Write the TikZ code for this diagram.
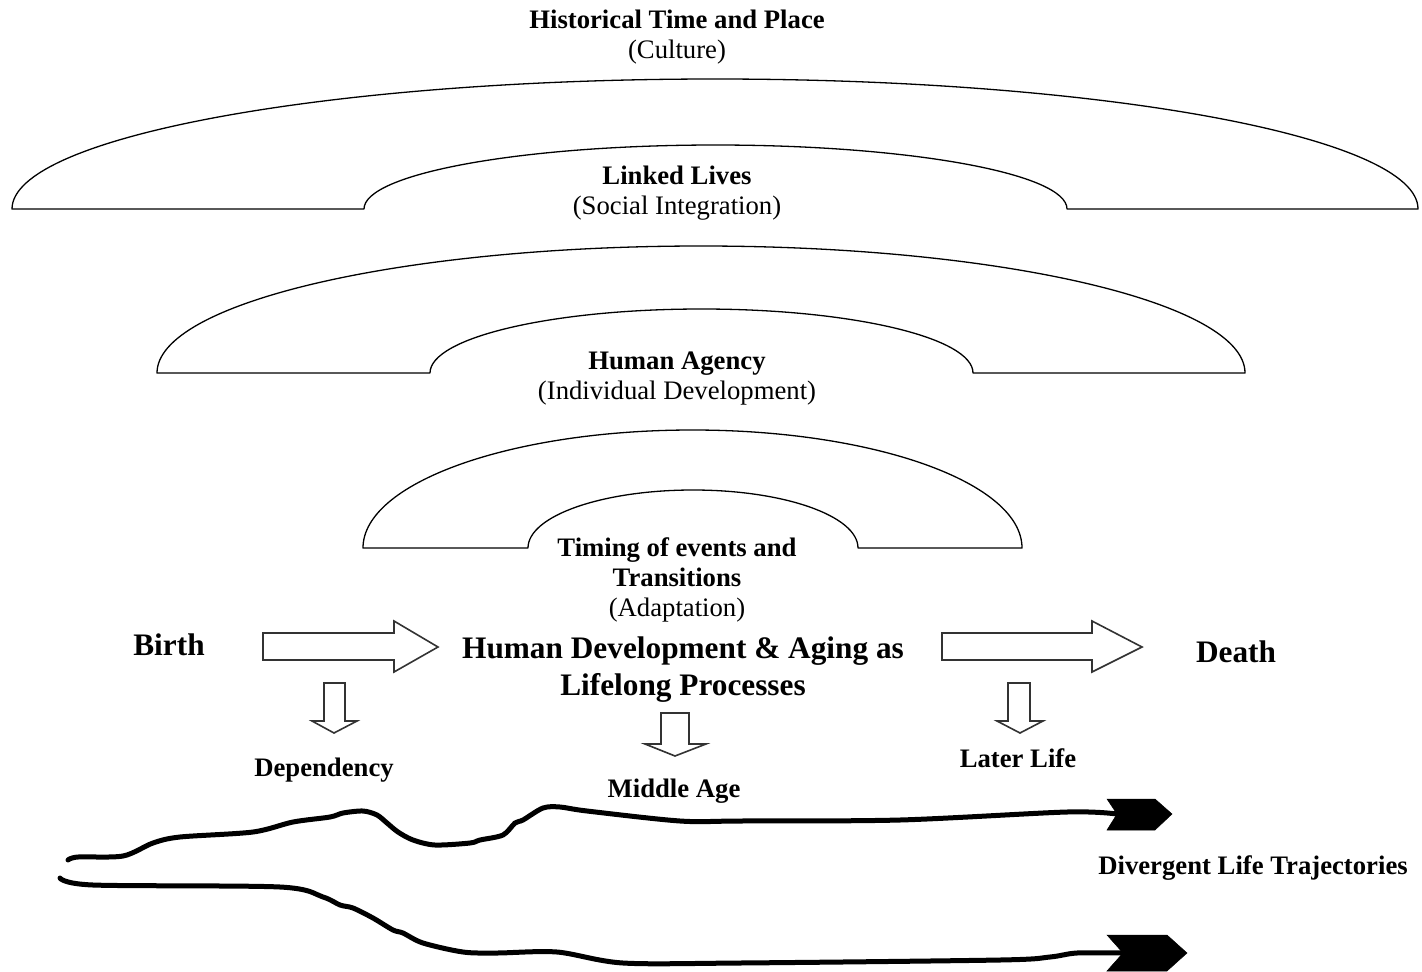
\documentclass[tikz,border=0pt]{standalone}
\usepackage{fontspec}
\setmainfont{Liberation Serif}
\begin{document}
\begin{tikzpicture}[x=1pt,y=-1pt,
  arch/.style={draw=black,line width=1.3pt,fill=white,line join=round},
  blockarrow/.style={draw=black!80,line width=1.6pt,fill=white,line join=miter},
  trajline/.style={line width=5pt,line cap=round,line join=round},
  trajhead/.style={fill=black,draw=black,line width=0.5pt},
  lbl/.style={font=\fontsize{26.7}{30}\selectfont,align=center,inner sep=0pt},
  boldlbl/.style={font=\fontsize{26.7}{30}\selectfont\bfseries,align=center,inner sep=0pt},
  biglbl/.style={font=\fontsize{31.3}{37}\selectfont\bfseries,align=center,inner sep=0pt}]
\useasboundingbox (0,0) rectangle (1422,972);

% nested arches: outer half-ellipse, flat feet, inner half-ellipse
\draw[arch] (12,209) arc[start angle=180,end angle=0,x radius=703pt,y radius=130pt]
  -- (1067,209) arc[start angle=0,end angle=180,x radius=351.5pt,y radius=64pt] -- cycle;
\draw[arch] (157,373) arc[start angle=180,end angle=0,x radius=544pt,y radius=127pt]
  -- (973,373) arc[start angle=0,end angle=180,x radius=271.5pt,y radius=64pt] -- cycle;
\draw[arch] (363,548) arc[start angle=180,end angle=0,x radius=329.5pt,y radius=118pt]
  -- (858,548) arc[start angle=0,end angle=180,x radius=165pt,y radius=58pt] -- cycle;

% labels of the arches
\node[lbl] (hist) at (677,37) {\textbf{Historical Time and Place}\\(Culture)};
\node[lbl] (linked) at (677,193) {\textbf{Linked Lives}\\(Social Integration)};
\node[lbl] (agency) at (677,379) {\textbf{Human Agency}\\(Individual Development)};
\node[lbl] (timing) at (677,580) {\textbf{Timing of events and}\\\textbf{Transitions}\\(Adaptation)};

% life course line
\node[biglbl] (birth) at (169,645) {Birth};
\node[biglbl] (hdev) at (683,670) {Human Development \& Aging as\\Lifelong Processes};
\node[biglbl] (death) at (1236,652) {Death};

\node[boldlbl] (dep) at (324,770) {Dependency};
\node[boldlbl] (mid) at (674,791) {Middle Age};
\node[boldlbl] (later) at (1018,758) {Later Life};
\node[boldlbl] (div) at (1253,868) {Divergent Life Trajectories};

% block arrows
\draw[blockarrow] (263,633) -- (394,633) -- (394,621) -- (438,647) -- (394,672) -- (394,660) -- (263,660) -- cycle;
\draw[blockarrow] (942,633) -- (1092,633) -- (1092,621) -- (1142,647) -- (1092,672) -- (1092,660) -- (942,660) -- cycle;
\draw[blockarrow] (324,683) -- (345,683) -- (345,721) -- (357,721) -- (334,733) -- (312,721) -- (324,721) -- cycle;
\draw[blockarrow] (661,713) -- (689,713) -- (689,744) -- (706,744) -- (675,756) -- (645,744) -- (661,744) -- cycle;
\draw[blockarrow] (1008,683) -- (1030,683) -- (1030,721) -- (1043,721) -- (1020,733) -- (997,721) -- (1008,721) -- cycle;

% divergent trajectories
\coordinate (t1end) at (1117,814);
\coordinate (t2end) at (1123,953);
\draw[trajline] plot[smooth,tension=0.5] coordinates {
  (68,860) (78,857) (123,856) (153,843) (180,837) (253,832) (293,822) (330,817)
  (343,813) (363,811) (377,815) (387,823) (398,832) (413,840) (435,845) (470,843)
  (480,840) (503,835) (515,823) (523,820) (543,808) (560,807) (587,811) (680,821)
  (740,821) (900,820) (1067,812) (1117,814)};
\draw[trajline] plot[smooth,tension=0.5] coordinates {
  (60,878) (93,885) (280,887) (323,897) (340,905) (353,908) (373,918) (393,930)
  (403,933) (423,943) (463,952) (497,953) (557,952) (623,963) (740,963) (1000,960)
  (1050,957) (1077,953) (1123,953)};
\fill[trajhead] (1107,799) -- (1155,799) -- (1172,814) -- (1155,830) -- (1107,830) -- (t1end) -- cycle;
\fill[trajhead] (1107,935) -- (1167,935) -- (1187,953) -- (1167,971) -- (1107,971) -- (t2end) -- cycle;
\end{tikzpicture}
\end{document}
